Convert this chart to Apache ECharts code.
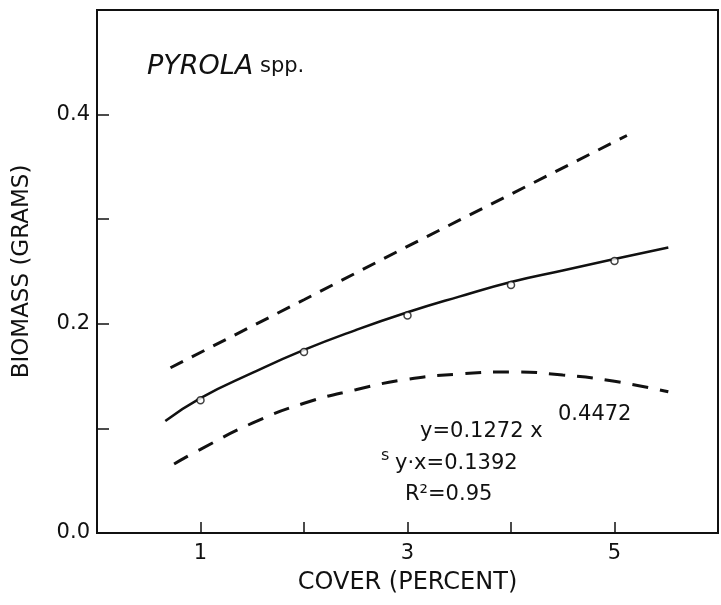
<!DOCTYPE html>
<html>
<head>
<meta charset="utf-8">
<script src="https://cdn.jsdelivr.net/npm/echarts@6/dist/echarts.min.js"></script>
<style>
html,body{margin:0;padding:0;background:#fff;}
#chart{width:721px;height:605px;}
</style>
</head>
<body>
<div id="chart"></div>
<script>
// ---- data ----
const xTickLabels = ['1', '3', '5'];
const yTickLabels = ['0.0', '0.2', '0.4'];
const observedX = [1, 2, 3, 4, 5];
const observedY = [0.127, 0.173, 0.208, 0.237, 0.260];
const fitX = [0.66, 1, 1.5, 2, 2.5, 3, 3.5, 4, 4.5, 5, 5.52];
const fitY = [0.107, 0.129, 0.153, 0.175, 0.194, 0.211, 0.226, 0.240, 0.251, 0.262, 0.273];
const upperX = [0.71, 2, 3, 4, 5.12];
const upperY = [0.158, 0.223, 0.274, 0.324, 0.380];
const lowerX = [0.745, 1, 1.5, 2, 2.5, 3, 3.5, 4, 4.5, 5, 5.52];
const lowerY = [0.066, 0.080, 0.105, 0.124, 0.137, 0.147, 0.152, 0.154, 0.151, 0.145, 0.135];

const pairs = (xs, ys) => xs.map((x, i) => [x, ys[i]]);
const FONT = 'DejaVu Sans';
const INK = '#111';

const chart = echarts.init(document.getElementById('chart'), null, {renderer: 'canvas'});
chart.setOption({
  animation: false,
  backgroundColor: '#fff',
  grid: {left: 97, right: 3, top: 10, bottom: 72, show: true, borderColor: INK, borderWidth: 2},
  xAxis: {
    type: 'value', min: 0, max: 6, interval: 1,
    name: 'COVER (PERCENT)', nameLocation: 'middle', nameGap: 38,
    nameTextStyle: {fontFamily: FONT, fontSize: 24, color: INK},
    axisLine: {lineStyle: {color: INK, width: 2}},
    axisTick: {inside: true, length: 11, lineStyle: {color: INK, width: 1.5}},
    axisLabel: {
      margin: 10, fontFamily: FONT, fontSize: 21, color: INK,
      formatter: v => (xTickLabels.indexOf(String(v)) >= 0 ? String(v) : '')
    },
    splitLine: {show: false}
  },
  yAxis: {
    type: 'value', min: 0, max: 0.5, interval: 0.1,
    name: 'BIOMASS (GRAMS)', nameLocation: 'middle', nameGap: 63,
    nameTextStyle: {fontFamily: FONT, fontSize: 23, color: INK},
    axisLine: {lineStyle: {color: INK, width: 2}},
    axisTick: {inside: true, length: 12, lineStyle: {color: INK, width: 1.5}},
    axisLabel: {
      margin: 7, fontFamily: FONT, fontSize: 21, color: INK,
      formatter: v => { const s = v.toFixed(1); return yTickLabels.indexOf(s) >= 0 ? s : ''; }
    },
    splitLine: {show: false}
  },
  series: [
    {type: 'line', data: pairs(upperX, upperY), showSymbol: false, smooth: false,
     lineStyle: {color: INK, width: 3, type: [14, 10]}},
    {type: 'line', data: pairs(lowerX, lowerY), showSymbol: false, smooth: true,
     lineStyle: {color: INK, width: 3, type: [16, 12]}},
    {type: 'line', data: pairs(fitX, fitY), showSymbol: false, smooth: true,
     lineStyle: {color: INK, width: 2.5}},
    {type: 'scatter', data: pairs(observedX, observedY), symbol: 'circle', symbolSize: 7,
     itemStyle: {color: '#fff', borderColor: INK, borderWidth: 1.5}, z: 5}
  ],
  graphic: [
    {type: 'text', left: 147, top: 53, style: {
      text: '{i|PYROLA}{n| spp.}', fill: INK,
      rich: {i: {fontFamily: FONT, fontStyle: 'italic', fontSize: 27, fill: INK},
             n: {fontFamily: FONT, fontSize: 21, fill: INK}}
    }},
    {type: 'text', left: 420, top: 421, style: {text: 'y=0.1272 x', fontFamily: FONT, fontSize: 21, fill: INK}},
    {type: 'text', left: 558, top: 404, style: {text: '0.4472', fontFamily: FONT, fontSize: 21, fill: INK}},
    {type: 'text', left: 381, top: 448, style: {text: 's', fontFamily: FONT, fontSize: 16, fill: INK}},
    {type: 'text', left: 395, top: 453, style: {text: 'y\u00b7x=0.1392', fontFamily: FONT, fontSize: 21, fill: INK}},
    {type: 'text', left: 405, top: 484, style: {text: 'R\u00b2=0.95', fontFamily: FONT, fontSize: 21, fill: INK}}
  ]
});
</script>
</body>
</html>
